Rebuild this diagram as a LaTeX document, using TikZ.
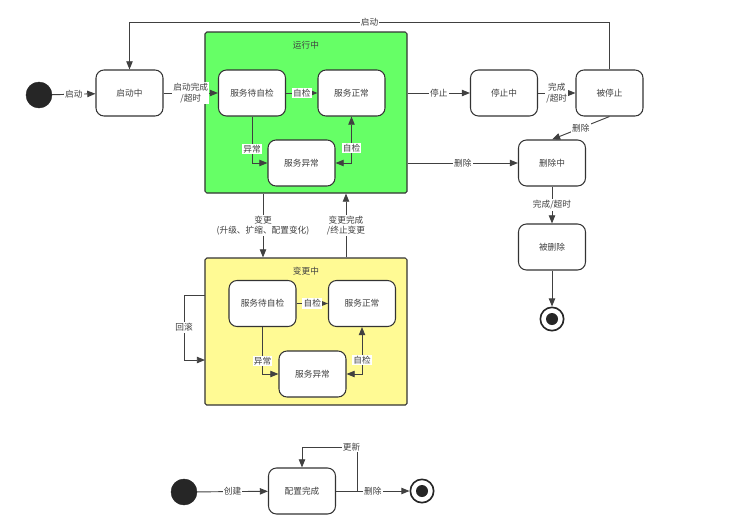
\documentclass[tikz,border=0pt]{standalone}
\usepackage{fontspec}
\newfontfamily\cjk{Noto Sans CJK SC}
\usetikzlibrary{arrows.meta}

\begin{document}
\begin{tikzpicture}[x=0.03cm, y=-0.03cm,
  every node/.style={font=\cjk\fontsize{7.4}{8.8}\selectfont, text=black!75},
  flow/.style={line width=0.8pt, draw=black!75},
  >={Triangle[length=7pt, width=5.5pt]},
  state/.style={draw=black!80, fill=white, rounded corners=0.24cm, minimum width=2.01cm, minimum height=1.38cm, line width=0.9pt},
  lbl/.style={fill=white, inner sep=1pt, align=center},
  init/.style={circle, fill=black!85, draw=black!85, minimum size=0.78cm},
  final/.style={circle, draw=black!85, fill=white, line width=1.4pt, minimum size=0.70cm, path picture={\fill[black!85] (path picture bounding box.center) circle (0.18cm);}}]
\useasboundingbox (0,0) rectangle (756,524);

% composite states
\node[draw=black!80, fill=green!60!white, rounded corners=1.5pt, minimum width=6.06cm, minimum height=4.83cm, line width=0.9pt] (run) at (306,112.5) {};
\node[draw=black!80, fill=yellow!42!white, rounded corners=1.5pt, minimum width=6.06cm, minimum height=4.41cm, line width=0.9pt] (change) at (306,331.5) {};
\node (runlbl) at (306,45) {运行中};
\node (chglbl) at (306,271) {变更中};

\node[init] (init) at (39,95) {};
\node[state] (starting) at (129.5,93) {启动中};
\node[state] (rwait) at (252,93) {服务待自检};
\node[state] (rok) at (351.5,93) {服务正常};
\node[state] (rerr) at (301.5,163) {服务异常};
\node[state] (stopping) at (504,93) {停止中};
\node[state] (stopped) at (609.5,93) {被停止};
\node[state] (deleting) at (552,163) {删除中};
\node[state] (deleted) at (552,247) {被删除};
\node[final] (end1) at (552,319) {};

\node[state] (cwait) at (262.5,303.5) {服务待自检};
\node[state] (cok) at (362,303.5) {服务正常};
\node[state] (cerr) at (312.5,374) {服务异常};

\node[init] (init2) at (184,492) {};
\node[state] (cfg) at (302,491) {配置完成};
\node[final] (end2) at (422,491) {};

\coordinate (toploop) at (609.5,22);
\coordinate (chgx) at (263,0);
\coordinate (backx) at (346,0);
\coordinate (rb1) at (205,295);
\coordinate (rb2) at (205,360);
\coordinate (upd) at (357,491);

\draw[flow, ->] (init) -- node[lbl]{启动} (starting);
\draw[flow, ->] (stopped.north) -- (toploop) -| node[lbl, pos=0.25]{启动} (starting.north);
\draw[flow, ->] (starting) -- node[lbl]{启动完成\\/超时} (rwait);
\draw[flow, ->] (rwait) -- node[lbl]{自检} (rok);
\draw[flow, ->] (rwait.south) |- node[lbl, pos=0.35]{异常} (rerr.west);
\draw[flow, <->] (rerr.east) -| node[lbl, pos=0.66]{自检} (rok.south);

\draw[flow, ->] (run.east |- stopping.west) -- node[lbl]{停止} (stopping);
\draw[flow, ->] (stopping) -- node[lbl]{完成\\/超时} (stopped);
\draw[flow, ->] (stopped.south) -- node[lbl]{删除} (deleting.north);
\draw[flow, ->] (run.east |- deleting.west) -- node[lbl]{删除} (deleting.west);
\draw[flow, ->] (deleting) -- node[lbl]{完成/超时} (deleted);
\draw[flow, ->] (deleted) -- (end1);

\draw[flow, ->] (run.south -| chgx) -- node[lbl]{变更\\(升级、扩缩、配置变化)} (change.north -| chgx);
\draw[flow, ->] (change.north -| backx) -- node[lbl]{变更完成\\/终止变更} (run.south -| backx);
\draw[flow, ->] (rb1) -- ++(-21,0) |- node[lbl, pos=0.25]{回滚} (rb2);

\draw[flow, ->] (cwait) -- node[lbl]{自检} (cok);
\draw[flow, ->] (cwait.south) |- node[lbl, pos=0.36]{异常} (cerr.west);
\draw[flow, <->] (cerr.east) -| node[lbl, pos=0.65]{自检} (cok.south);

\draw[flow, ->] (init2) -- node[lbl]{创建} (cfg);
\draw[flow, ->] (cfg) -- node[lbl]{删除} (end2);
\draw[flow, ->] (upd) -- ++(0,-44) -| node[lbl, pos=0.05]{更新} (cfg.north);
\end{tikzpicture}
\end{document}
